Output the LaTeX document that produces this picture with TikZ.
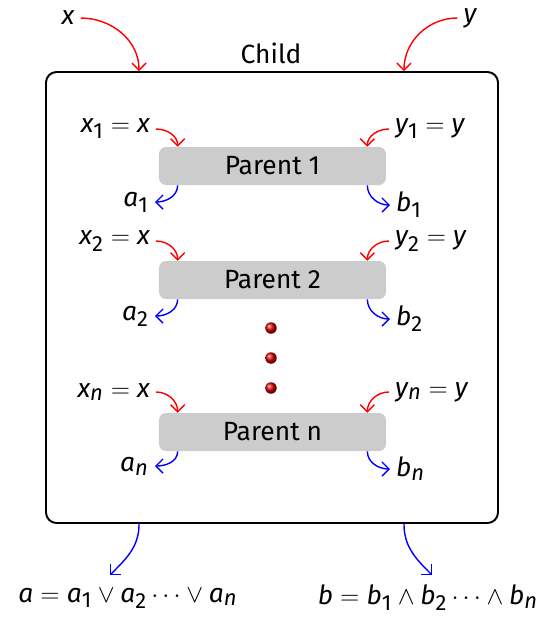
\documentclass[tikz,border=0pt]{standalone}
\usepackage{amsmath, amssymb}
\usepackage{fontspec}
\setmainfont{Fira Sans}
\usepackage[italic]{mathastext}
\usepackage{tikz}
\usetikzlibrary{calc}
\usetikzlibrary{positioning}
\usetikzlibrary{arrows.meta}
\usepackage{xcolor}

\begin{document}
\begin{tikzpicture}[
		font=\fontsize{15}{17}\selectfont,
		c/.style = {rectangle, draw=black, line width=1.1pt, rounded corners=6pt, minimum width=9.04cm, minimum height=9.02cm},
		p/.style = {rectangle, fill=black!20, rounded corners=4pt, minimum width=4.54cm, minimum height=0.76cm},
		d/.style = {circle, ball color=red!85!black, minimum size=0.23cm, inner sep=0pt},
		i/.style = {->, red, thick, >={Straight Barb[length=4pt, width=8pt]}},
		o/.style = {->, blue, thick, >={Straight Barb[length=4pt, width=8pt]}}
		]

		\useasboundingbox (0, 0) rectangle (10.78, -12.34);

		%Nodes
		\node[c]	(c)	at	(5.44, -5.95)	{};
		\node		(child)	at	(5.42, -1.06)	{Child};
		\node		(x)	at	(1.36, -0.36)	{$x$};
		\node		(y)	at	(9.40, -0.36)	{$y$};

		\node[p]	(p1)	at	(5.45, -3.32)	{Parent 1};
		\node[p]	(p2)	at	(5.45, -5.60)	{Parent 2};
		\node[p]	(pn)	at	(5.45, -8.64)	{Parent n};

		\node[d]	(d1)	at	(5.42, -6.56)	{};
		\node[d]	(d2)	at	(5.42, -7.16)	{};
		\node[d]	(d3)	at	(5.42, -7.76)	{};

		\node[anchor=east]	(x1)	at	(3.12, -2.58)	{$x_{\mathrm{1}} = x$};
		\node[anchor=east]	(a1)	at	(3.10, -4.04)	{$a_{\mathrm{1}}$};
		\node[anchor=west]	(y1)	at	(7.78, -2.58)	{$y_{\mathrm{1}} = y$};
		\node[anchor=west]	(b1)	at	(7.80, -4.10)	{$b_{\mathrm{1}}$};

		\node[anchor=east]	(x2)	at	(3.12, -4.82)	{$x_{\mathrm{2}} = x$};
		\node[anchor=east]	(a2)	at	(3.10, -6.32)	{$a_{\mathrm{2}}$};
		\node[anchor=west]	(y2)	at	(7.78, -4.82)	{$y_{\mathrm{2}} = y$};
		\node[anchor=west]	(b2)	at	(7.80, -6.38)	{$b_{\mathrm{2}}$};

		\node[anchor=east]	(xn)	at	(3.12, -7.84)	{$x_n = x$};
		\node[anchor=east]	(an)	at	(3.10, -9.32)	{$a_n$};
		\node[anchor=west]	(yn)	at	(7.78, -7.84)	{$y_n = y$};
		\node[anchor=west]	(bn)	at	(7.80, -9.38)	{$b_n$};

		\node		(a)	at	(2.56, -11.96)	{$a = a_{\mathrm{1}} \vee a_{\mathrm{2}} \cdots \vee a_n$};
		\node		(b)	at	(8.56, -11.96)	{$b = b_{\mathrm{1}} \wedge b_{\mathrm{2}} \cdots \wedge b_n$};

		%Lines
		\draw[i]	(x.east)	to[out=0, in=90]	([xshift=1.88cm]c.north west);
		\draw[i]	(y.west)	to[out=180, in=90]	([xshift=-1.90cm]c.north east);
		\draw[o]	([xshift=1.88cm]c.south west)	to[out=-90, in=45]	(2.2, -11.5);
		\draw[o]	([xshift=-1.90cm]c.south east)	to[out=-90, in=135]	(8.64, -11.5);

		\draw[i]	(x1.east)	to[out=0, in=90]	([xshift=0.38cm]p1.north west);
		\draw[o]	([xshift=0.38cm]p1.south west)	to[out=-90, in=0]	(a1.east);
		\draw[i]	(y1.west)	to[out=180, in=90]	([xshift=-0.38cm]p1.north east);
		\draw[o]	([xshift=-0.38cm]p1.south east)	to[out=-90, in=180]	(b1.west);

		\draw[i]	(x2.east)	to[out=0, in=90]	([xshift=0.38cm]p2.north west);
		\draw[o]	([xshift=0.38cm]p2.south west)	to[out=-90, in=0]	(a2.east);
		\draw[i]	(y2.west)	to[out=180, in=90]	([xshift=-0.38cm]p2.north east);
		\draw[o]	([xshift=-0.38cm]p2.south east)	to[out=-90, in=180]	(b2.west);

		\draw[i]	(xn.east)	to[out=0, in=90]	([xshift=0.38cm]pn.north west);
		\draw[o]	([xshift=0.38cm]pn.south west)	to[out=-90, in=0]	(an.east);
		\draw[i]	(yn.west)	to[out=180, in=90]	([xshift=-0.38cm]pn.north east);
		\draw[o]	([xshift=-0.38cm]pn.south east)	to[out=-90, in=180]	(bn.west);
	\end{tikzpicture}
\end{document}
